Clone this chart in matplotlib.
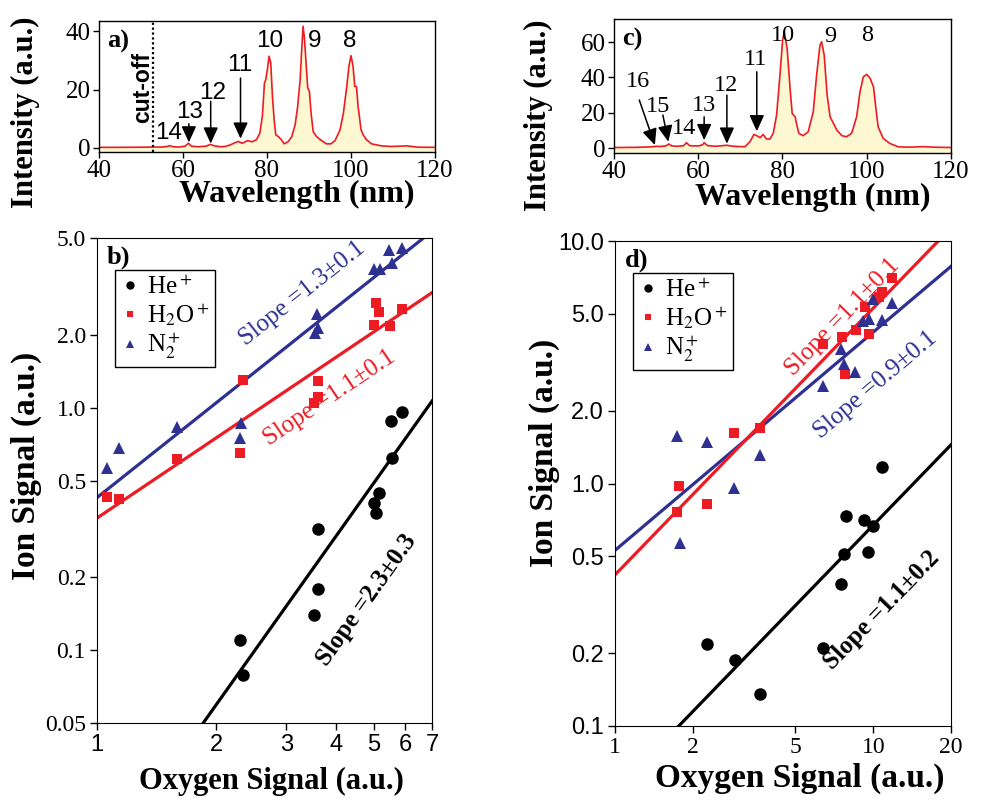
import matplotlib
matplotlib.use("Agg")
import matplotlib.pyplot as plt
import numpy as np
from matplotlib.ticker import NullLocator

SERIF = "Liberation Serif"
SANS = "Liberation Sans"
plt.rcParams["font.family"] = [SERIF, "DejaVu Serif"]
plt.rcParams["mathtext.fontset"] = "stix"

RED = "#ed1c24"
BLUE = "#2e3192"
FILL = "#fdf7d2"

# --- spectrum a) ---
wl_a = [40, 45, 50, 53, 55, 56.3, 56.9, 57.6, 59, 60.5, 61.3, 62.0, 63.5, 65.5, 66.5, 67.5,
        69, 70, 71.2, 72.4, 73.2, 74.1, 75.4, 76.4, 77.5, 78.3, 78.9, 79.4, 79.7, 80.1, 80.5,
        80.9, 81.3, 81.7, 82.1, 82.7, 83.3, 84.1, 85.1, 85.9, 86.7, 87.3, 87.9, 88.2, 88.6,
        88.9, 89.2, 89.7, 90.1, 90.5, 91.0, 91.8, 93.0, 94.2, 95.2, 96.2, 97.4, 98.2, 99.0,
        99.5, 100.0, 100.5, 100.9, 101.3, 101.7, 102.4, 102.9, 103.7, 104.9, 107.3, 109.7,
        113.3, 116.0, 120]
int_a = [0.2, 0.2, 0.25, 0.3, 0.3, 0.5, 0.8, 0.4, 0.3, 0.6, 1.6, 0.6, 0.4, 0.6, 1.2, 0.7,
         0.4, 0.5, 1.0, 1.8, 2.2, 1.6, 2.5, 2.1, 2.8, 5.1, 10.8, 22.3, 23.4, 27.0, 31.5,
         29.2, 17.7, 9.7, 4.5, 3.9, 3.0, 1.4, 2.2, 3.9, 7.9, 14.2, 23.4, 32.0, 41.8,
         38.0, 31.5, 20.6, 19.4, 12.0, 5.6, 3.9, 2.5, 1.4, 1.4, 2.5, 6.2, 12.0, 21.1,
         28.0, 31.7, 28.0, 21.1, 21.1, 14.2, 6.2, 4.5, 2.8, 1.4, 0.7, 0.5,
         0.7, 0.25, 0.2]
cutoff_a = 52.8
peaks_a = ["14", "13", "12", "11", "10", "9", "8"]
peak_pos_a = [(56.7, 5.2), (61.7, 12.4), (67.1, 19.0), (73.6, 28.6), (80.7, 36.6), (91.4, 36.6), (99.8, 36.6)]
arrows_a = [((61.4, 8.3), (61.4, 1.9)), ((66.6, 16.0), (66.6, 1.5)), ((73.7, 24.0), (73.7, 3.2))]

# --- spectrum c) ---
wl_c = [40, 45, 48, 49.5, 50.0, 51, 52.3, 53.0, 53.7, 55, 56.5, 57.2, 58, 60, 61.0, 61.4, 62.2,
        64, 66.0, 66.7, 68, 70, 71.1, 72.3, 73.2, 73.9, 74.7, 75.4, 76.2, 77.0, 77.8, 78.6,
        79.4, 80.0, 80.4, 81.1, 81.8, 82.3, 83.0, 83.5, 83.9, 84.9, 86.1, 87.3, 88.1, 88.9,
        89.3, 89.9, 90.6, 91.3, 92.1, 92.9, 94.1, 95.2, 96.4, 97.6, 98.4, 99.2, 100.0, 100.8,
        101.6, 102.2, 102.7, 103.9, 105.5, 107.5, 110, 113.4, 116, 120]
int_c = [0.3, 0.4, 0.6, 0.8, 1.0, 0.9, 1.2, 2.3, 1.2, 1.0, 1.3, 3.0, 1.3, 1.2, 1.8, 3.0, 1.4,
         1.0, 1.4, 1.6, 1.1, 0.8, 0.8, 3.6, 7.7, 7.0, 5.9, 7.7, 5.1, 5.1, 8.3, 18.7,
         41.3, 60.2, 66.0, 56.4, 33.8, 19.6, 17.7, 12.1, 8.3, 7.0, 9.2, 20.5, 41.3, 58.3,
         60.2, 52.6, 30.0, 17.7, 14.0, 10.2, 7.0, 6.4, 8.3, 17.7, 31.9, 40.4, 41.7, 39.5,
         34.7, 22.0, 12.1, 5.5, 2.6, 0.7, 0.5, 0.8, 0.5, 0.3]
peaks_c = ["16", "15", "14", "13", "12", "11", "10", "9", "8"]
peak_pos_c = [(45.8, 37.5), (50.5, 23.8), (56.5, 11.1), (61.4, 24.3), (66.6, 35.7), (73.5, 50.2),
              (80.2, 64.0), (91.3, 63.0), (100.0, 64.0)]
arrows_c = [((46.0, 27.2), (49.7, 1.7)), ((51.6, 18.7), (52.9, 3.6)), ((61.4, 17.7), (61.4, 4.5)),
            ((66.8, 30.0), (66.8, 2.5)), ((73.9, 43.2), (73.9, 9.5))]

# --- ion signal vs oxygen signal b) ---
he_x_b = [5.52, 5.87, 5.54, 5.15, 5.0, 5.06, 3.60, 3.60, 3.53, 2.30, 2.33]
he_y_b = [0.882, 0.961, 0.617, 0.443, 0.403, 0.366, 0.315, 0.178, 0.140, 0.110, 0.079]
h2o_x_b = [1.058, 1.138, 1.589, 2.33, 2.30, 3.60, 3.60, 3.53, 5.05, 5.14, 5.0, 5.49, 5.87]
h2o_y_b = [0.426, 0.419, 0.612, 1.30, 0.647, 1.29, 1.108, 1.04, 2.69, 2.48, 2.19, 2.17, 2.54]
n2_x_b = [1.062, 1.138, 1.589, 2.308, 2.30, 3.595, 3.548, 3.60, 5.0, 5.17, 5.46, 5.87, 5.54]
n2_y_b = [0.561, 0.679, 0.833, 0.866, 0.746, 2.42, 2.02, 2.12, 3.71, 3.71, 4.46, 4.53, 3.93]
# power-law fits: (prefactor, slope)
fit_b = {"n2": (0.425, 1.3), "h2o": (0.35, 1.1), "he": (0.0121, 2.3)}

# --- ion signal vs oxygen signal d) ---
he_x_d = [10.78, 7.84, 9.23, 10.0, 7.72, 9.56, 7.48, 6.40, 2.277, 2.915, 3.64]
he_y_d = [1.17, 0.734, 0.707, 0.668, 0.512, 0.523, 0.385, 0.21, 0.218, 0.187, 0.135]
h2o_x_d = [1.774, 1.733, 2.277, 2.897, 3.64, 6.40, 7.55, 7.77, 8.57, 9.29, 9.65, 10.78, 10.55, 11.85]
h2o_y_d = [0.98, 0.765, 0.821, 1.61, 1.69, 3.75, 4.01, 2.82, 4.30, 5.33, 4.14, 6.18, 5.89, 7.01]
n2_x_d = [1.78, 1.733, 2.265, 2.888, 3.64, 6.40, 7.50, 7.72, 8.50, 9.15, 9.65, 10.0, 10.78, 11.85]
n2_y_d = [0.567, 1.57, 1.487, 0.955, 1.31, 2.52, 3.58, 3.11, 2.89, 4.69, 4.75, 5.77, 4.72, 5.53]
fit_d = {"n2": (0.53, 0.9), "h2o": (0.42, 1.1), "he": (0.0535, 1.1)}

species = ["He$^+$", "H$_2$O$^+$", "N$_2^+$"]


def spectrum(ax, wl, inten, ylim, yticks, letter, peaks, pos, arrows, fam, fs):
    ax.fill_between(wl, inten, -5, color=FILL, lw=0)
    ax.plot(wl, inten, color=RED, lw=1.2)
    ax.set_xlim(40, 120)
    ax.set_ylim(*ylim)
    ax.set_xticks([40, 60, 80, 100, 120])
    ax.set_yticks(yticks)
    ax.tick_params(labelsize=18, length=4, width=1, pad=2)
    ax.set_xlabel("Wavelength (nm)", fontsize=23, fontweight="bold")
    ax.set_ylabel("Intensity (a.u.)", fontsize=22, fontweight="bold")
    ax.xaxis.set_label_coords(0.59, -0.215)
    ax.yaxis.set_label_coords(-0.175, 0.3)
    ax.text(0.025, 0.93, letter, transform=ax.transAxes, fontsize=19, fontweight="bold",
            va="top", ha="left")
    for lab, (x, y) in zip(peaks, pos):
        ax.text(x, y, lab, fontsize=fs, family=fam, ha="center", va="center")
    for tail, head in arrows:
        ax.annotate("", xy=head, xytext=tail,
                    arrowprops=dict(arrowstyle="-|>,head_length=0.7,head_width=0.32",
                                    color="k", lw=1.1, mutation_scale=14, shrinkA=0, shrinkB=0))
    for s in ax.spines.values():
        s.set_linewidth(1)


def ionplot(ax, data, fits, xlim, ylim, xticks, xlabels, yticks, ylabels, xfam, yfam,
            xlab_size, xlab_pos, ylab_y):
    (hx, hy), (wx, wy), (nx, ny) = data
    xs = np.array(xlim, dtype=float)
    for key, col in [("n2", BLUE), ("h2o", RED), ("he", "k")]:
        a, k = fits[key]
        ax.plot(xs, a * xs ** k, color=col, lw=2.3, zorder=2)
    ax.plot(hx, hy, "o", color="k", ms=8, ls="none", zorder=3)
    ax.plot(wx, wy, "s", color=RED, ms=6.5, ls="none", mew=0, zorder=3)
    ax.plot(nx, ny, "^", color=BLUE, ms=8, ls="none", mew=0, zorder=3)
    ax.set_xscale("log")
    ax.set_yscale("log")
    ax.set_xlim(*xlim)
    ax.set_ylim(*ylim)
    ax.set_xticks(xticks)
    ax.set_xticklabels(xlabels, family=xfam, fontsize=17)
    ax.set_yticks(yticks)
    ax.set_yticklabels(ylabels, family=yfam, fontsize=17)
    ax.xaxis.set_minor_locator(NullLocator())
    ax.yaxis.set_minor_locator(NullLocator())
    ax.tick_params(length=5, width=1, pad=3)
    ax.set_xlabel("Oxygen Signal (a.u.)", fontsize=xlab_size, fontweight="bold")
    ax.set_ylabel("Ion Signal (a.u.)", fontsize=24, fontweight="bold")
    ax.xaxis.set_label_coords(*xlab_pos)
    ax.yaxis.set_label_coords(-0.165, ylab_y)
    hs = [ax.plot([], [], "o", color="k", ms=5)[0],
          ax.plot([], [], "s", color=RED, ms=5, mew=0)[0],
          ax.plot([], [], "^", color=BLUE, ms=6, mew=0)[0]]
    leg = ax.legend(hs, species, loc="upper left", bbox_to_anchor=(0.055, 0.935),
                    fancybox=False, edgecolor="k", framealpha=1, handlelength=0.7,
                    handletextpad=0.3, borderpad=0.25, labelspacing=0.1, borderaxespad=0,
                    prop={"family": SERIF, "size": 18})
    leg.get_frame().set_linewidth(1)


fig = plt.figure(figsize=(9.81, 8.0), dpi=100)
ax_a = fig.add_axes([0.1009, 0.81, 0.3425, 0.16375])
ax_c = fig.add_axes([0.6259, 0.80875, 0.3435, 0.1675])
ax_b = fig.add_axes([0.0989, 0.09625, 0.3415, 0.60625])
ax_d = fig.add_axes([0.6269, 0.0925, 0.3425, 0.60625])

spectrum(ax_a, wl_a, int_a, (-1.4, 43.6), [0, 20, 40], "a)", peaks_a, peak_pos_a, arrows_a, SANS, 17.5)
ax_a.axvline(cutoff_a, color="k", ls=(0, (1, 1.2)), lw=1.6)
ax_a.text(cutoff_a - 2.3, 20.7, "cut-off", rotation=90, family=SANS, fontweight="bold",
          fontsize=16.5, ha="center", va="center")

spectrum(ax_c, wl_c, int_c, (-2.8, 73.1), [0, 20, 40, 60], "c)", peaks_c, peak_pos_c, arrows_c, SERIF, 17.5)
ax_c.yaxis.set_label_coords(-0.18, 0.28)
ax_c.xaxis.set_label_coords(0.59, -0.225)

ionplot(ax_b, [(he_x_b, he_y_b), (h2o_x_b, h2o_y_b), (n2_x_b, n2_y_b)], fit_b,
        (1, 7), (0.05, 5.0), [1, 2, 3, 4, 5, 6, 7], ["1", "2", "3", "4", "5", "6", "7"],
        [0.05, 0.1, 0.2, 0.5, 1.0, 2.0, 5.0], ["0.05", "0.1", "0.2", "0.5", "1.0", "2.0", "5.0"],
        SANS, SERIF, 22, (0.52, -0.09), 0.53)
ax_b.text(0.03, 0.985, "b)", transform=ax_b.transAxes, fontsize=19, fontweight="bold", va="top")
ax_b.text(3.3, 2.95, "Slope =1.3±0.1", color=BLUE, fontsize=18, rotation=38.5,
          rotation_mode="anchor", ha="center", va="center")
ax_b.text(3.85, 1.1, "Slope =1.1±0.1", color=RED, fontsize=18, rotation=34,
          rotation_mode="anchor", ha="center", va="center")
ax_b.text(4.8, 0.16, "Slope =2.3±0.3", color="k", fontsize=18, fontweight="bold", rotation=54.6,
          rotation_mode="anchor", ha="center", va="center")

ionplot(ax_d, [(he_x_d, he_y_d), (h2o_x_d, h2o_y_d), (n2_x_d, n2_y_d)], fit_d,
        (1, 20), (0.1, 10.0), [1, 2, 5, 10, 20], ["1", "2", "5", "10", "20"],
        [0.1, 0.2, 0.5, 1.0, 2.0, 5.0, 10.0], ["0.1", "0.2", "0.5", "1.0", "2.0", "5.0", "10.0"],
        SERIF, SANS, 24, (0.55, -0.075), 0.563)
ax_d.text(0.03, 0.985, "d)", transform=ax_d.transAxes, fontsize=19, fontweight="bold", va="top")
ax_d.text(7.6, 4.85, "Slope =1.1±0.1", color=RED, fontsize=18, rotation=45.9,
          rotation_mode="anchor", ha="center", va="center")
ax_d.text(10.2, 2.55, "Slope =0.9±0.1", color=BLUE, fontsize=18, rotation=40.2,
          rotation_mode="anchor", ha="center", va="center")
ax_d.text(10.8, 0.3, "Slope =1.1±0.2", color="k", fontsize=18, fontweight="bold", rotation=45.9,
          rotation_mode="anchor", ha="center", va="center")

fig.savefig("out.png", dpi=100)
